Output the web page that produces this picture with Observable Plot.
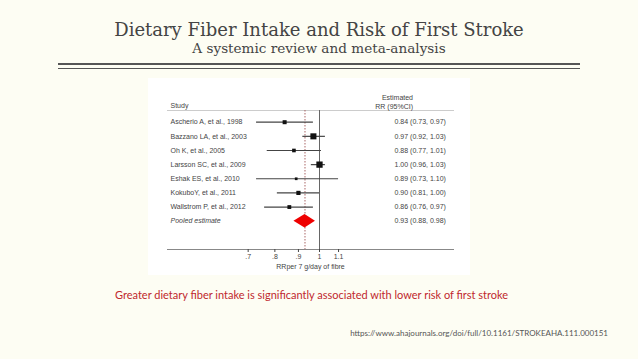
<!DOCTYPE html>
<html><head><meta charset="utf-8">
<script src="https://cdn.jsdelivr.net/npm/d3@7"></script>
<script src="https://cdn.jsdelivr.net/npm/@observablehq/plot@0.6"></script>
<style>
html,body{margin:0;padding:0;background:#fdfdf3;width:638px;height:359px;overflow:hidden}
#page{position:relative;width:638px;height:359px}
.t{position:absolute;left:0;width:638px;text-align:center;white-space:nowrap;line-height:1}
#title{top:20.5px;font-size:18px;font-family:"DejaVu Serif",serif;color:#444}
#subtitle{top:41.5px;font-size:13.6px;font-family:"DejaVu Serif",serif;color:#444}
.rule{position:absolute;left:58px;width:522px;background:#555}
#chart{position:absolute;left:148px;top:78px}
#caption{position:absolute;left:115px;top:289px;font-size:11px;font-family:Lato,sans-serif;color:#c0282d;white-space:nowrap;line-height:1}
#url{position:absolute;right:30px;top:329px;font-size:8px;font-family:Lato,sans-serif;color:#555;white-space:nowrap;line-height:1}
</style></head><body>
<div id="page">
 <div id="title" class="t">Dietary Fiber Intake and Risk of First Stroke</div>
 <div id="subtitle" class="t">A systemic review and meta-analysis</div>
 <div class="rule" style="top:62.5px;height:2px"></div>
 <div class="rule" style="top:67.5px;height:1.3px"></div>
 <div id="chart"></div>
 <div id="caption">Greater dietary fiber intake is significantly associated with lower risk of first stroke</div>
 <div id="url">https://www.ahajournals.org/doi/full/10.1161/STROKEAHA.111.000151</div>
</div>
<script>
const studies = ["Ascherio A, et al., 1998", "Bazzano LA, et al., 2003", "Oh K, et al., 2005", "Larsson SC, et al., 2009", "Eshak ES, et al., 2010", "KokuboY, et al., 2011", "Wallstrom P, et al., 2012"];
const rr     = [0.84, 0.97, 0.88, 1.00, 0.89, 0.90, 0.86];
const lower  = [0.73, 0.92, 0.77, 0.96, 0.73, 0.81, 0.76];
const upper  = [0.97, 1.03, 1.01, 1.03, 1.10, 1.00, 0.97];
const weights = [11, 25, 9, 27, 5, 12, 10];
const pooledLabel = "Pooled estimate";
const pooled = [0.93, 0.88, 0.98];
const tickValues = [0.7, 0.8, 0.9, 1, 1.1];
const tickLabels = [".7", ".8", ".9", "1", "1.1"];
const axisTitle = "RRper 7 g/day of fibre";
const headerStudy = "Study";
const headerEst = ["Estimated", "RR (95%CI)"];

const rows = studies.map((s, i) => ({study: s, i, rr: rr[i], lo: lower[i], hi: upper[i], w: weights[i]}));
const pooledRow = {study: pooledLabel, i: studies.length, rr: pooled[0], lo: pooled[1], hi: pooled[2]};
const all = [...rows, pooledRow];
const fmt = d3.format(".2f");
const h = 0.48;
const diamond = [
  {x: pooledRow.lo, y1: pooledRow.i, y2: pooledRow.i},
  {x: pooledRow.rr, y1: pooledRow.i - h, y2: pooledRow.i + h},
  {x: pooledRow.hi, y1: pooledRow.i, y2: pooledRow.i}
];
const font = "'Liberation Sans', Arial, sans-serif";
const chart = Plot.plot({
  width: 322, height: 197,
  marginLeft: 19, marginRight: 17, marginTop: 32, marginBottom: 26,
  style: {background: "#fff", fontFamily: font, color: "#555", overflow: "visible"},
  x: {type: "log", domain: [Math.exp(-0.76), Math.exp(0.67)], axis: null},
  y: {domain: [0, studies.length], range: [43.7, 142.7], axis: null},
  r: {type: "sqrt", domain: [0, 27], range: [0, 3.55]},
  marks: [
    Plot.frame({anchor: "top", stroke: "#ccc"}),
    Plot.frame({anchor: "bottom", stroke: "#888"}),
    Plot.ruleX([1], {stroke: "#666"}),
    Plot.ruleX([pooledRow.rr], {stroke: "#a66", strokeDasharray: "1.5,1.5"}),
    Plot.ruleY(rows, {y: "i", x1: "lo", x2: "hi", stroke: "#444", strokeWidth: 1.2}),
    Plot.dot(rows, {x: "rr", y: "i", r: "w", symbol: "square", fill: "#111", stroke: null}),
    Plot.areaY(diamond, {x: "x", y1: "y1", y2: "y2", fill: "#ee0000"}),
    Plot.text(rows, {frameAnchor: "left", y: "i", text: "study", textAnchor: "start", dx: 3, fontSize: 7, fill: "#444"}),
    Plot.text([pooledRow], {frameAnchor: "left", y: "i", text: "study", textAnchor: "start", dx: 3, fontSize: 7, fill: "#444", fontStyle: "italic"}),
    Plot.text(all, {frameAnchor: "right", y: "i", text: d => `${fmt(d.rr)} (${fmt(d.lo)}, ${fmt(d.hi)})`, textAnchor: "start", dx: -59, fontSize: 7, fill: "#444"}),
    Plot.text([headerStudy], {text: d => d, frameAnchor: "top-left", textAnchor: "start", dx: 3, dy: -7, fontSize: 7, fill: "#444"}),
    Plot.text([headerEst[0]], {text: d => d, frameAnchor: "top-right", dx: -40.5, dy: -15, fontSize: 7, fill: "#444"}),
    Plot.text([headerEst[1]], {text: d => d, frameAnchor: "top-right", dx: -40.5, dy: -6, fontSize: 7, fill: "#444"}),
    Plot.axisX({ticks: tickValues, tickFormat: d => tickLabels[tickValues.indexOf(d)], tickSize: 3, tickPadding: 2, fontSize: 7, label: null, color: "#444"}),
    Plot.text([axisTitle], {text: d => d, frameAnchor: "bottom", dy: 19, fontSize: 7, fill: "#444"})
  ]
});
document.getElementById("chart").appendChild(chart);
</script>
</body></html>
